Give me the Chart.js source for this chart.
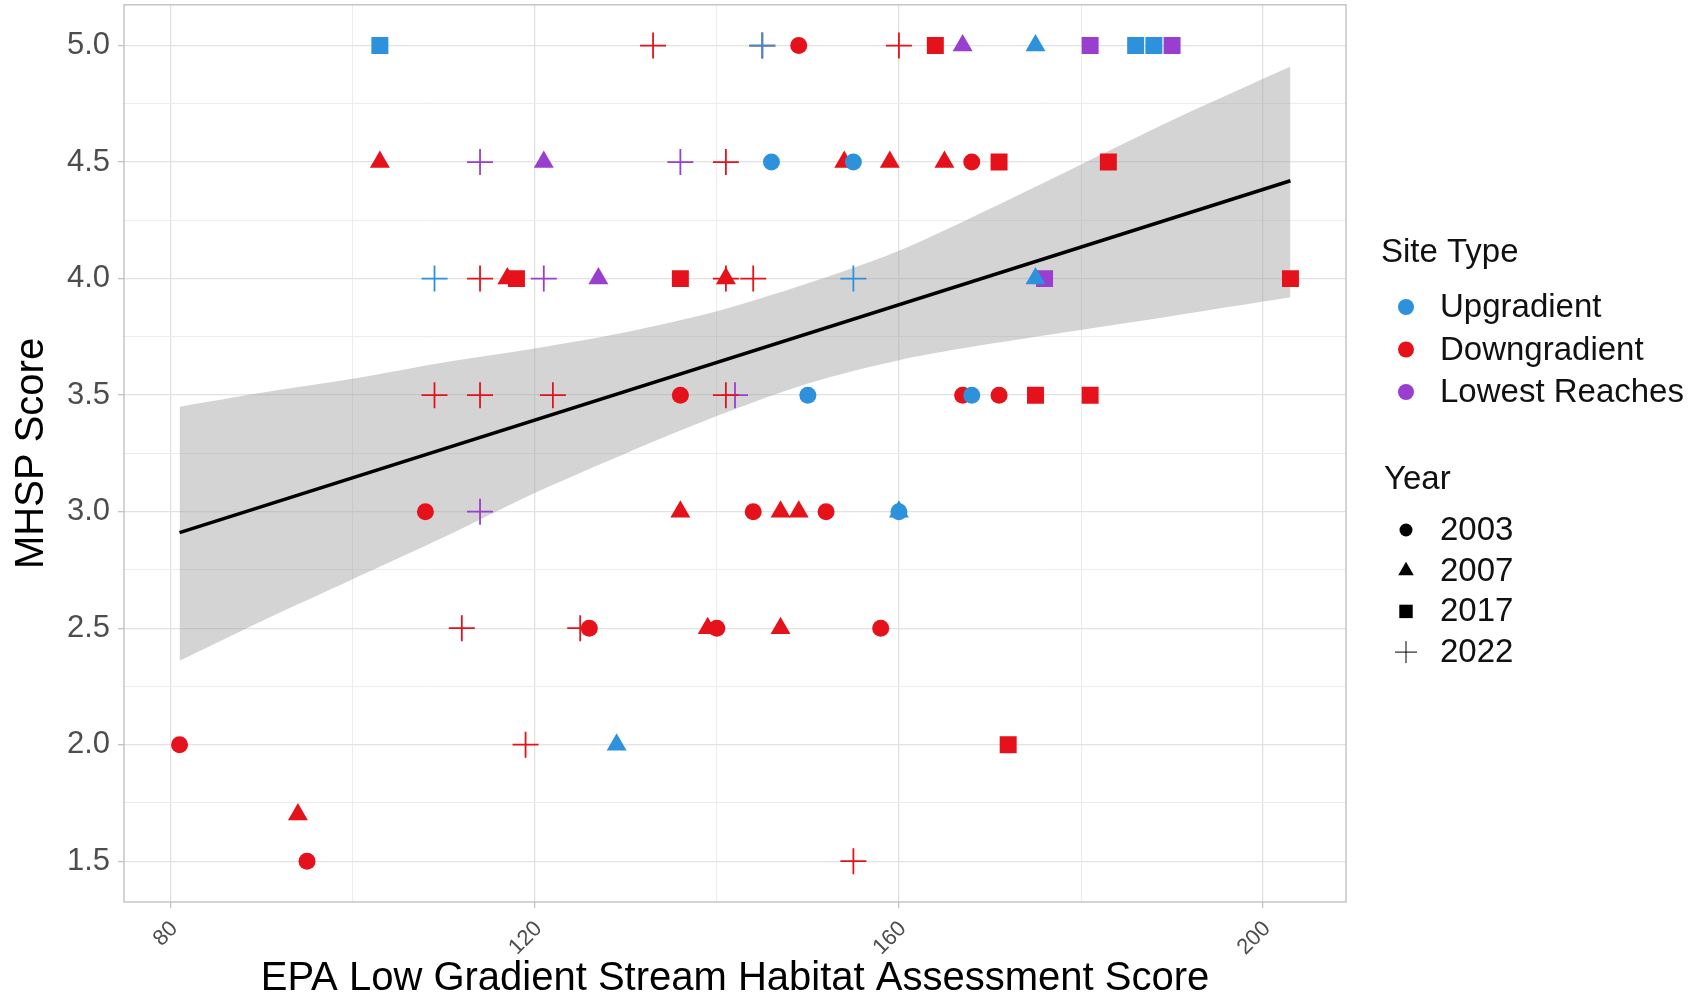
<!DOCTYPE html>
<html>
<head>
<meta charset="utf-8">
<script src="https://cdn.jsdelivr.net/npm/chart.js@4"></script>
<style>
  html, body { margin: 0; padding: 0; background: #fff; overflow: hidden; }
  #outer { width: 1691px; height: 1003px; overflow: hidden; position: relative; }
  #wrap { width: 1691px; height: 1013px; position: absolute; left: 0; top: -10px; }
</style>
</head>
<body>
<div id="outer"><div id="wrap"><canvas id="habitatChart"></canvas></div></div>
<script>
// categories
const siteTypes = ['Upgradient', 'Downgradient', 'Lowest Reaches'];
const years = [2003, 2007, 2017, 2022];

// Upgradient sites
const upgradientX = [103, 145, 175, 186, 188, 146, 155, 109, 155, 175, 150, 168, 160, 160, 129];
const upgradientY = [5.0, 5.0, 5.0, 5.0, 5.0, 4.5, 4.5, 4.0, 4.0, 4.0, 3.5, 3.5, 3.0, 3.0, 2.0];
const upgradientYear = [2017, 2022, 2007, 2017, 2017, 2003, 2003, 2022, 2022, 2007, 2003, 2003, 2003, 2007, 2007];

// Downgradient sites
const downgradientX = [133, 145, 149, 160, 164,
  103, 141, 154, 159, 165, 168, 171, 183,
  114, 117, 118, 136, 141, 141, 144, 203,
  109, 114, 122, 136, 141, 167, 171, 175, 181,
  108, 136, 144, 147, 149, 152,
  112, 125, 126, 139, 140, 147, 158,
  81, 119, 172,
  94,
  95, 155];
const downgradientY = [5.0, 5.0, 5.0, 5.0, 5.0,
  4.5, 4.5, 4.5, 4.5, 4.5, 4.5, 4.5, 4.5,
  4.0, 4.0, 4.0, 4.0, 4.0, 4.0, 4.0, 4.0,
  3.5, 3.5, 3.5, 3.5, 3.5, 3.5, 3.5, 3.5, 3.5,
  3.0, 3.0, 3.0, 3.0, 3.0, 3.0,
  2.5, 2.5, 2.5, 2.5, 2.5, 2.5, 2.5,
  2.0, 2.0, 2.0,
  1.7,
  1.5, 1.5];
const downgradientYear = [2022, 2022, 2003, 2022, 2017,
  2007, 2022, 2007, 2007, 2007, 2003, 2017, 2017,
  2022, 2007, 2017, 2017, 2007, 2022, 2022, 2017,
  2022, 2022, 2022, 2003, 2022, 2003, 2003, 2017, 2017,
  2003, 2007, 2003, 2007, 2007, 2003,
  2022, 2022, 2003, 2007, 2003, 2007, 2003,
  2003, 2022, 2017,
  2007,
  2003, 2022];

// Lowest Reaches sites
const lowestX = [167, 181, 190, 114, 121, 136, 121, 127, 176, 142, 114];
const lowestY = [5.0, 5.0, 5.0, 4.5, 4.5, 4.5, 4.0, 4.0, 4.0, 3.5, 3.0];
const lowestYear = [2007, 2017, 2017, 2022, 2007, 2022, 2022, 2007, 2017, 2022, 2022];

// linear fit and its confidence band
const fitX = [81, 203];
const fitY = [2.91, 4.42];
const bandX = [81, 90, 100, 110, 120, 130, 140, 150, 160, 170, 180, 190, 203];
const bandUpper = [3.45, 3.51, 3.57, 3.64, 3.70, 3.77, 3.86, 3.98, 4.12, 4.30, 4.49, 4.68, 4.91];
const bandLower = [2.36, 2.53, 2.71, 2.89, 3.08, 3.25, 3.41, 3.55, 3.65, 3.72, 3.78, 3.84, 3.92];

// ticks
const xTicks = [80, 120, 160, 200];
const xMinorTicks = [100, 140, 180];
const yTicks = [1.5, 2.0, 2.5, 3.0, 3.5, 4.0, 4.5, 5.0];
const yMinorTicks = [1.75, 2.25, 2.75, 3.25, 3.75, 4.25, 4.75];

// styling
const siteColors = ['#2E91DB', '#E5121B', '#9A3ECF'];
const yearStyles = { 2003: 'circle', 2007: 'triangle', 2017: 'rect', 2022: 'cross' };
const yearRadius = { 2003: 8.5, 2007: 11.5, 2017: 12, 2022: 13 };
const FONT = '"Liberation Sans", Arial, Helvetica, sans-serif';
Chart.defaults.font.family = FONT;

const siteData = [
  [upgradientX, upgradientY, upgradientYear],
  [downgradientX, downgradientY, downgradientYear],
  [lowestX, lowestY, lowestYear]
];

const datasets = [];
siteTypes.forEach((site, s) => {
  const [xs, ys, yrs] = siteData[s];
  years.forEach(yr => {
    const pts = [];
    xs.forEach((x, i) => { if (yrs[i] === yr) pts.push({ x: x, y: ys[i] }); });
    if (!pts.length) return;
    datasets.push({
      type: 'scatter',
      label: site + ' ' + yr,
      data: pts,
      pointStyle: yearStyles[yr],
      pointRadius: yearRadius[yr],
      pointHoverRadius: yearRadius[yr],
      backgroundColor: siteColors[s],
      borderColor: siteColors[s],
      pointBorderWidth: yr === 2022 ? 1.8 : 0,
      order: 1
    });
  });
});

datasets.push({
  type: 'line',
  label: 'fit',
  data: fitX.map((x, i) => ({ x: x, y: fitY[i] })),
  borderColor: '#000',
  borderWidth: 3.5,
  pointRadius: 0,
  fill: false,
  order: 2
});
datasets.push({
  type: 'line',
  label: 'upper',
  data: bandX.map((x, i) => ({ x: x, y: bandUpper[i] })),
  borderWidth: 0,
  borderColor: 'rgba(0,0,0,0)',
  backgroundColor: 'rgba(160,160,160,0.45)',
  pointRadius: 0,
  tension: 0.3,
  fill: '+1',
  order: 3
});
datasets.push({
  type: 'line',
  label: 'lower',
  data: bandX.map((x, i) => ({ x: x, y: bandLower[i] })),
  borderWidth: 0,
  borderColor: 'rgba(0,0,0,0)',
  pointRadius: 0,
  tension: 0.3,
  fill: false,
  order: 3
});

const panelBorder = {
  id: 'panelBorder',
  afterDatasetsDraw(chart) {
    const a = chart.chartArea, ctx = chart.ctx;
    ctx.save();
    ctx.strokeStyle = '#bdbdbd';
    ctx.lineWidth = 1.3;
    ctx.strokeRect(a.left, a.top, a.right - a.left, a.bottom - a.top);
    ctx.restore();
  }
};

// canvas is shifted up by 10px, so legend coords carry +10
const legendPanel = {
  id: 'legendPanel',
  afterDraw(chart) {
    const ctx = chart.ctx;
    ctx.save();
    ctx.textAlign = 'left';
    ctx.textBaseline = 'middle';
    ctx.fillStyle = '#111';
    ctx.font = '33px ' + FONT;
    ctx.fillText('Site Type', 1381, 263);
    siteTypes.forEach((name, i) => {
      const y = 317 + i * 42.5;
      ctx.fillStyle = siteColors[i];
      Chart.helpers.drawPoint(ctx, { pointStyle: 'circle', radius: 8, borderWidth: 0, rotation: 0 }, 1406, y);
      ctx.fillStyle = '#111';
      ctx.fillText(name, 1440, y + 1);
    });
    ctx.fillText('Year', 1384, 490);
    years.forEach((yr, i) => {
      const y = 540 + i * 40.7;
      ctx.fillStyle = '#000';
      ctx.strokeStyle = '#000';
      const r = { 2003: 6.5, 2007: 9, 2017: 9.5, 2022: 11 }[yr];
      Chart.helpers.drawPoint(ctx, { pointStyle: yearStyles[yr], radius: r, borderWidth: yr === 2022 ? 1.5 : 0, rotation: 0 }, 1406, y);
      ctx.fillStyle = '#111';
      ctx.fillText(String(yr), 1440, y + 1);
    });
    ctx.restore();
  }
};

const isMajorX = v => xTicks.includes(v);
const isMajorY = v => yTicks.some(t => Math.abs(t - v) < 1e-9);

new Chart(document.getElementById('habitatChart'), {
  type: 'scatter',
  data: { datasets: datasets },
  options: {
    responsive: true,
    maintainAspectRatio: false,
    animation: false,
    layout: { padding: { top: 5, right: 345, left: 0, bottom: 0 } },
    plugins: {
      legend: { display: false },
      tooltip: { enabled: false }
    },
    scales: {
      x: {
        type: 'linear',
        min: 74.9,
        max: 209.1,
        afterBuildTicks: s => { s.ticks = xTicks.concat(xMinorTicks).sort((a, b) => a - b).map(v => ({ value: v })); },
        afterFit: s => { s.height = 101; s.paddingLeft = 0; s.paddingRight = 0; },
        ticks: {
          callback: v => isMajorX(v) ? String(v) : '',
          minRotation: 45,
          maxRotation: 45,
          padding: 8,
          labelOffset: 4,
          color: '#4d4d4d',
          font: { size: 22 }
        },
        grid: {
          color: c => isMajorX(c.tick.value) ? '#e2e2e2' : '#ececec',
          lineWidth: c => isMajorX(c.tick.value) ? 1.3 : 1,
          tickLength: 6,
          tickColor: c => isMajorX(c.tick.value) ? '#c4c4c4' : 'rgba(0,0,0,0)'
        },
        border: { display: false },
        title: {
          display: true,
          text: 'EPA Low Gradient Stream Habitat Assessment Score',
          color: '#000',
          font: { size: 40 },
          padding: { top: 0, bottom: 0 }
        }
      },
      y: {
        type: 'linear',
        min: 1.325,
        max: 5.175,
        afterBuildTicks: s => { s.ticks = yTicks.concat(yMinorTicks).sort((a, b) => a - b).map(v => ({ value: v })); },
        afterFit: s => { s.width = 124; s.paddingTop = 0; s.paddingBottom = 0; },
        ticks: {
          callback: v => isMajorY(v) ? v.toFixed(1) : '',
          padding: 8,
          color: '#4d4d4d',
          font: { size: 31 }
        },
        grid: {
          color: c => isMajorY(c.tick.value) ? '#e2e2e2' : '#ececec',
          lineWidth: c => isMajorY(c.tick.value) ? 1.3 : 1,
          tickLength: 6,
          tickColor: c => isMajorY(c.tick.value) ? '#c4c4c4' : 'rgba(0,0,0,0)'
        },
        border: { display: false },
        title: {
          display: true,
          text: 'MHSP Score',
          color: '#000',
          font: { size: 40 },
          padding: { top: 8, bottom: 0 }
        }
      }
    }
  },
  plugins: [panelBorder, legendPanel]
});
</script>
</body>
</html>
